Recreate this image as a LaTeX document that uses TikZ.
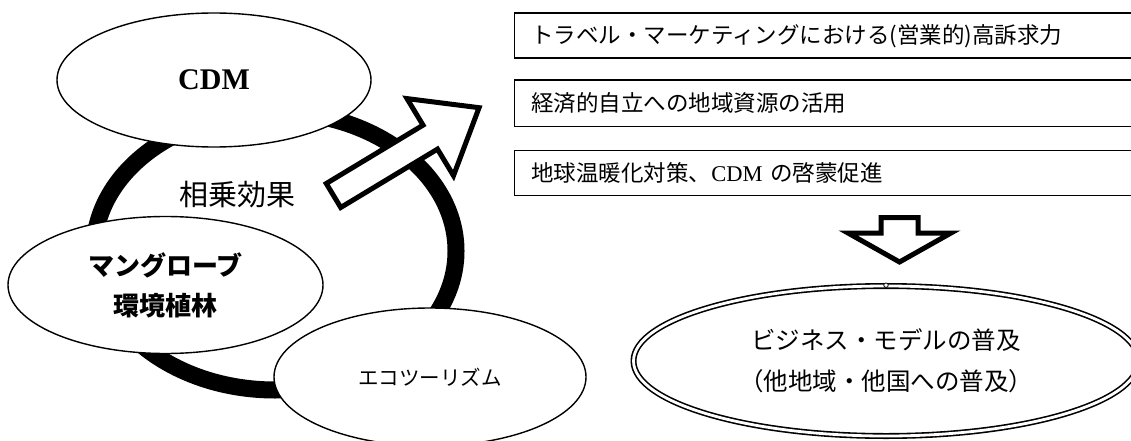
\documentclass[tikz,border=0pt]{standalone}
\usepackage{fontspec}
\setmainfont{Liberation Serif}
\newfontfamily\jp{Noto Sans CJK JP}
\usetikzlibrary{shapes.geometric}
\begin{document}
\begin{tikzpicture}[x=1pt,y=-1pt,
  oval/.style={ellipse, draw, fill=white, line width=1.4pt, inner sep=0pt},
  infobox/.style={draw, line width=1.9pt, anchor=north west, minimum height=45pt,
    inner xsep=17pt, inner ysep=0pt, text width=620pt, align=left,
    font=\jp\fontsize{22.5}{26}\selectfont},
  hollow/.style={draw, fill=white, line width=5pt, miter limit=20},
  ring/.style={draw, line width=17pt},
]
\useasboundingbox (0,0) rectangle (1131,441);
\clip (0,0) rectangle (1131,441);

% synergy ring
\path[ring] (275,251) ellipse [x radius=181pt, y radius=139pt];

% three ellipses
\node[oval, minimum width=314pt, minimum height=134pt,
      font=\fontsize{30}{32}\selectfont\bfseries] (cdm) at (214,80) {CDM};
\node[oval, minimum width=315pt, minimum height=137pt, align=center,
      font=\jp\bfseries\fontsize{26}{40}\selectfont] (mang) at (165.5,285) {マングローブ\\環境植林};
\node[oval, minimum width=312pt, minimum height=138pt,
      font=\jp\fontsize{20.5}{24}\selectfont] (eco) at (430,377) {エコツーリズム};

\node[font=\jp\fontsize{29}{32}\selectfont] (syn) at (237,195) {相乗効果};

% big hollow arrow
\begin{scope}[shift={(333.5,195.5)}, rotate=31.1]
\draw[hollow] (0,-14) -- (113,-14) -- (113,-45) -- (170,0) -- (113,45) -- (113,14) -- (0,14) -- cycle;
\end{scope}

% boxes
\node[infobox, minimum height=45pt] (b1) at (513.5,12.5) {トラベル・マーケティングにおける(営業的)高訴求力};
\node[infobox, minimum height=46pt] (b2) at (513.5,79.5) {経済的自立への地域資源の活用};
\node[infobox, minimum height=45pt] (b3) at (513.5,149.5) {地球温暖化対策、{\rmfamily CDM} の啓蒙促進};

% down arrow
\draw[hollow] (881,217.5) -- (918,217.5) -- (918,233) -- (951,233) -- (899.5,262)
  -- (848,233) -- (881,233) -- cycle;

% double ellipse
\node[ellipse, draw, double, double distance=2.8pt, line width=1.6pt, fill=white,
      minimum width=505pt, minimum height=150pt, inner sep=0pt, align=center,
      font=\jp\fontsize{24.5}{41}\selectfont] (biz) at (886,361)
      {ビジネス・モデルの普及\\（他地域・他国への普及）};
\node[circle, draw, fill=white, line width=0.8pt, minimum size=4.5pt, inner sep=0pt] (dot) at (biz.north) {};
\end{tikzpicture}
\end{document}
